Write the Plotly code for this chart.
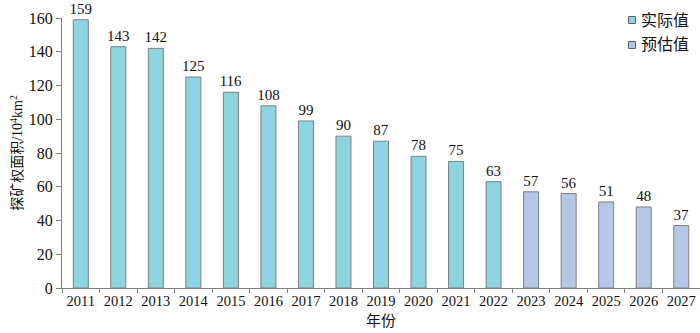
import plotly.graph_objects as go

years_actual = ["2011","2012","2013","2014","2015","2016","2017","2018","2019","2020","2021","2022"]
values_actual = [159,143,142,125,116,108,99,90,87,78,75,63]
years_forecast = ["2023","2024","2025","2026","2027"]
values_forecast = [57,56,51,48,37]
all_years = years_actual + years_forecast
legend_names = ["实际值", "预估值"]

FONT = "Liberation Serif, Noto Sans CJK SC, serif"
C_ACT = "#8DD3E0"
C_FC = "#B4C7E7"

L, T, B, W, H = 62, 18, 45, 700, 333
PW, PH = W - L, H - T - B

fig = go.Figure()
for xs, ys, col in [(years_actual, values_actual, C_ACT), (years_forecast, values_forecast, C_FC)]:
    fig.add_trace(go.Bar(x=xs, y=ys, showlegend=False, hoverinfo="skip",
                         marker=dict(color=col, line=dict(color="#808080", width=1)),
                         text=ys, textposition="outside", cliponaxis=False, constraintext="none",
                         textfont=dict(size=15, color="#111", family=FONT), width=0.4))

# legend drawn manually (small squares + labels)
for i, (name, col) in enumerate(zip(legend_names, [C_ACT, C_FC])):
    cy = 20 + 25 * i
    fig.add_shape(type="rect", xref="paper", yref="paper",
                  x0=(628.5 - L) / PW, x1=(635.5 - L) / PW,
                  y0=(H - B - (cy + 3.5)) / PH, y1=(H - B - (cy - 3.5)) / PH,
                  fillcolor=col, line=dict(color="#606060", width=1))
    fig.add_annotation(xref="paper", yref="paper", x=(639 - L) / PW, y=(H - B - cy) / PH,
                       xanchor="left", yanchor="middle", text=name, showarrow=False,
                       font=dict(size=16, family=FONT, color="#111"))

fig.update_layout(
    width=W, height=H, barmode="overlay", showlegend=False,
    margin=dict(l=L, r=0, t=T, b=B),
    plot_bgcolor="white", paper_bgcolor="white",
    font=dict(family=FONT, size=14, color="#111"),
    xaxis=dict(type="category", categoryorder="array", categoryarray=all_years,
               range=[-0.5, 16.5], automargin=False, tickangle=0,
               showline=True, linecolor="#808080", linewidth=1,
               ticks="outside", tickson="boundaries", ticklen=4, tickcolor="#808080",
               title=dict(text="年份", standoff=7, font=dict(size=15)),
               tickfont=dict(size=14.5)),
    yaxis=dict(range=[0,160], dtick=20, showgrid=False, zeroline=False, automargin=False,
               showline=True, linecolor="#808080", linewidth=1,
               ticks="outside", ticklen=5, tickcolor="#808080",
               title=dict(text="探矿权面积/10<sup>4</sup>km<sup>2</sup>", standoff=2, font=dict(size=14)),
               tickfont=dict(size=16)),
)
fig.write_html("out.html", config={"displayModeBar": False},
               post_script="document.body.style.margin='0';document.body.style.padding='0';")
